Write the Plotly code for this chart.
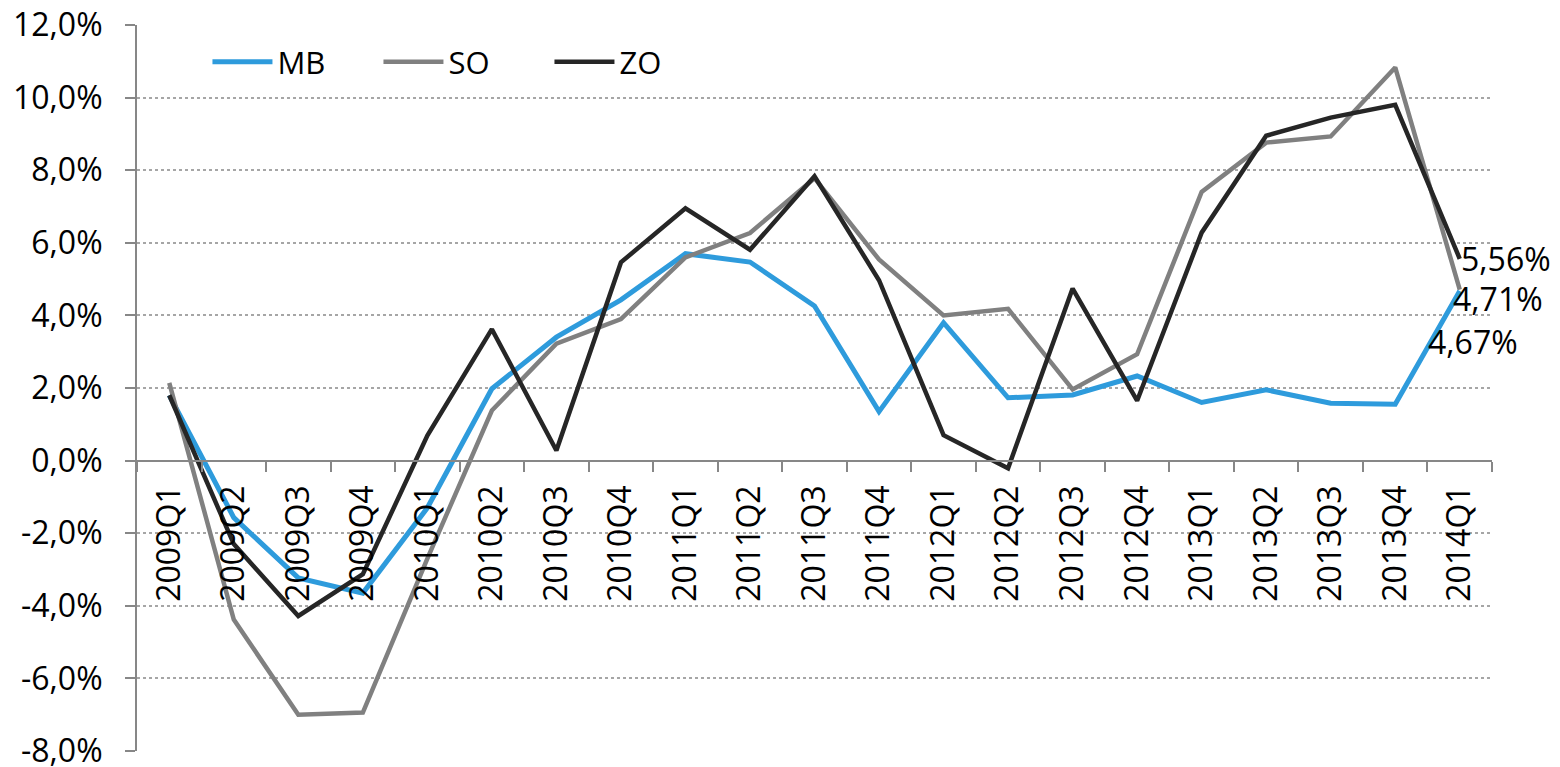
import plotly.graph_objects as go

categories = ["2009Q1", "2009Q2", "2009Q3", "2009Q4",
              "2010Q1", "2010Q2", "2010Q3", "2010Q4",
              "2011Q1", "2011Q2", "2011Q3", "2011Q4",
              "2012Q1", "2012Q2", "2012Q3", "2012Q4",
              "2013Q1", "2013Q2", "2013Q3", "2013Q4",
              "2014Q1"]

mb = [1.80, -1.57, -3.23, -3.65, -1.30, 1.98, 3.40, 4.43, 5.70, 5.47, 4.26,
      1.35, 3.80, 1.73, 1.81, 2.33, 1.60, 1.95, 1.58, 1.55, 4.67]
so = [2.14, -4.38, -7.00, -6.94, -2.70, 1.38, 3.22, 3.90, 5.60, 6.27, 7.78,
      5.54, 4.00, 4.18, 1.96, 2.93, 7.40, 8.76, 8.93, 10.83, 4.71]
zo = [1.80, -2.30, -4.28, -3.13, 0.69, 3.62, 0.28, 5.46, 6.95, 5.81, 7.83,
      4.97, 0.70, -0.21, 4.74, 1.65, 6.28, 8.95, 9.45, 9.80, 5.56]

series_names = ["MB", "SO", "ZO"]
series_colors = ["#2E9BDC", "#808080", "#262626"]
series_widths = [5, 4.5, 4.5]

y_ticks = [-8, -6, -4, -2, 0, 2, 4, 6, 8, 10, 12]
y_ticktext = [f"{v:.1f}".replace(".", ",") + "%" for v in y_ticks]

FONT = "Open Sans"

fig = go.Figure()
for name, vals, col, w in zip(series_names, [mb, so, zo], series_colors, series_widths):
    fig.add_trace(go.Scatter(
        x=categories, y=vals, name=name, mode="lines",
        line=dict(color=col, width=w),
    ))

# end-of-series data labels
label_shifts = {"ZO": (-1, 0), "SO": (-9, -9), "MB": (-34, -50)}
for name, vals in zip(series_names, [mb, so, zo]):
    xs, ys = label_shifts[name]
    fig.add_annotation(
        x=categories[-1], y=vals[-1],
        text=f"{vals[-1]:.2f}".replace(".", ",") + "%",
        showarrow=False, xanchor="left", yanchor="middle",
        xshift=xs, yshift=ys,
        font=dict(family=FONT, size=32, color="#000000"),
    )

fig.update_layout(
    width=1560, height=767,
    margin=dict(l=137, r=68, t=25, b=16, autoexpand=False),
    paper_bgcolor="white", plot_bgcolor="white",
    font=dict(family=FONT, size=32, color="#000000"),
    showlegend=True,
    legend=dict(
        orientation="h", x=0.052, y=0.949, xanchor="left", yanchor="middle",
        font=dict(family=FONT, size=31, color="#000000"),
        bgcolor="rgba(0,0,0,0)", itemwidth=60,
        entrywidth=96, entrywidthmode="pixels",
    ),
    xaxis=dict(
        type="category", range=[-0.5, 20.5],
        anchor="free", position=0.4, automargin=False,
        showline=True, linecolor="#878787", linewidth=2,
        ticks="outside", ticklen=10, tickwidth=2, tickcolor="#878787",
        tickson="boundaries", showgrid=False, zeroline=False,
        tickangle=-90, ticklabelstandoff=11,
        tickfont=dict(family=FONT, size=32, color="#000000"),
    ),
    yaxis=dict(
        range=[-8, 12], tickvals=y_ticks, ticktext=y_ticktext,
        automargin=False, ticklabeloverflow="allow",
        showline=True, linecolor="#878787", linewidth=2,
        ticks="outside", ticklen=10, tickwidth=2, tickcolor="#878787",
        showgrid=True, gridcolor="#A6A6A6", griddash="dot", gridwidth=1.5,
        zeroline=False, ticklabelstandoff=16,
        tickfont=dict(family=FONT, size=32, color="#000000"),
    ),
)

fig.write_html(
    "out.html",
    config={"displayModeBar": False},
    post_script="document.body.style.margin='0';document.body.style.overflow='hidden';",
)
